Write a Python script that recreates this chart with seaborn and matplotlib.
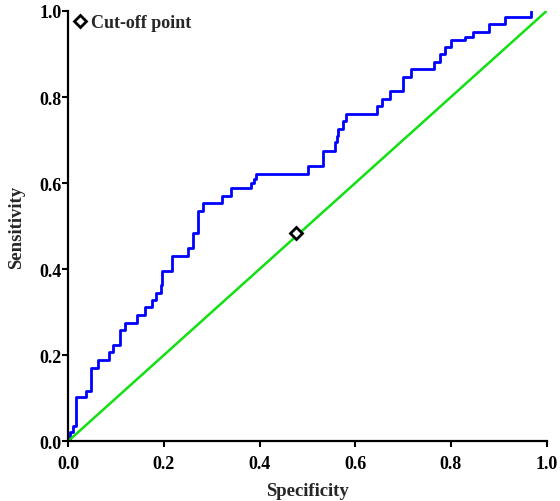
import numpy as np
import pandas as pd
import seaborn as sns
import matplotlib.pyplot as plt

# ROC curve (x = rise position, y = sensitivity after the rise)
roc_x = [0.0, 0.004, 0.010, 0.016, 0.038, 0.047, 0.063, 0.086, 0.094, 0.108, 0.118,
         0.144, 0.160, 0.176, 0.183, 0.193, 0.196, 0.216, 0.250, 0.261, 0.272, 0.281,
         0.322, 0.340, 0.383, 0.388, 0.392, 0.502, 0.533, 0.557, 0.561, 0.564, 0.575,
         0.580, 0.645, 0.656, 0.672, 0.700, 0.716, 0.765, 0.777, 0.788, 0.801, 0.829,
         0.847, 0.880, 0.913, 0.967, 0.967]
roc_y = [0.0, 0.020, 0.036, 0.102, 0.117, 0.170, 0.188, 0.206, 0.224, 0.258, 0.275,
         0.293, 0.311, 0.328, 0.344, 0.363, 0.396, 0.431, 0.448, 0.484, 0.536, 0.553,
         0.570, 0.588, 0.600, 0.610, 0.621, 0.639, 0.675, 0.695, 0.710, 0.726, 0.745,
         0.760, 0.780, 0.795, 0.813, 0.846, 0.865, 0.881, 0.900, 0.916, 0.933, 0.940,
         0.950, 0.970, 0.985, 1.0, 1.0]

# reference line and cut-off point
diag_x = [0.0, 1.0]
diag_y = [0.0, 1.0]
cut_x = [0.476]
cut_y = [0.484]

ticks = [0.0, 0.2, 0.4, 0.6, 0.8, 1.0]
tick_labels = ["0.0", "0.2", "0.4", "0.6", "0.8", "1.0"]

sns.set_style("ticks")
plt.rcParams['font.family'] = ['Liberation Serif', 'DejaVu Serif']

fig = plt.figure(figsize=(5.6, 5.02), dpi=100)
ax = fig.add_axes([0.122, 0.1195, 0.854, 0.8566])

roc = pd.DataFrame({'x': roc_x, 'y': roc_y})
sns.lineplot(data=roc, x='x', y='y', sort=False, estimator=None, ax=ax,
             color='#0000ff', linewidth=2.0, drawstyle='steps-post')
sns.lineplot(x=diag_x, y=diag_y, ax=ax, color='#11e011', linewidth=1.8)
ax.plot(cut_x, cut_y, linestyle='none', marker='D', markersize=6.5,
        markerfacecolor='white', markeredgecolor='black', markeredgewidth=2,
        label='Cut-off point', zorder=5)

ax.set_xlim(0, 1)
ax.set_ylim(0, 1)
ax.set_xticks(ticks)
ax.set_xticklabels(tick_labels, fontsize=13, fontweight='bold')
ax.set_yticks(ticks)
ax.set_yticklabels(tick_labels, fontsize=13, fontweight='bold')
ax.tick_params(direction='out', length=4, width=1.5, colors='black')
ax.tick_params(axis='x', pad=6)
ax.tick_params(axis='y', pad=1)
for s in ['left', 'bottom']:
    ax.spines[s].set_linewidth(1.6)
    ax.spines[s].set_color('black')
sns.despine(ax=ax)
ax.spines['left'].set_zorder(6)
ax.spines['bottom'].set_zorder(6)

ax.set_xlabel('Specificity', fontsize=13.5, fontweight='bold', labelpad=7)
ax.set_ylabel('Sensitivity', fontsize=13.5, fontweight='bold', labelpad=10)

leg = ax.legend(loc='upper left', bbox_to_anchor=(0.002, 1.005), frameon=False,
                handlelength=0.6, handletextpad=0.3, borderaxespad=0.1, borderpad=0.2,
                prop={'family': 'Liberation Serif', 'weight': 'bold', 'size': 13})

fig.savefig('out.png', dpi=100)
